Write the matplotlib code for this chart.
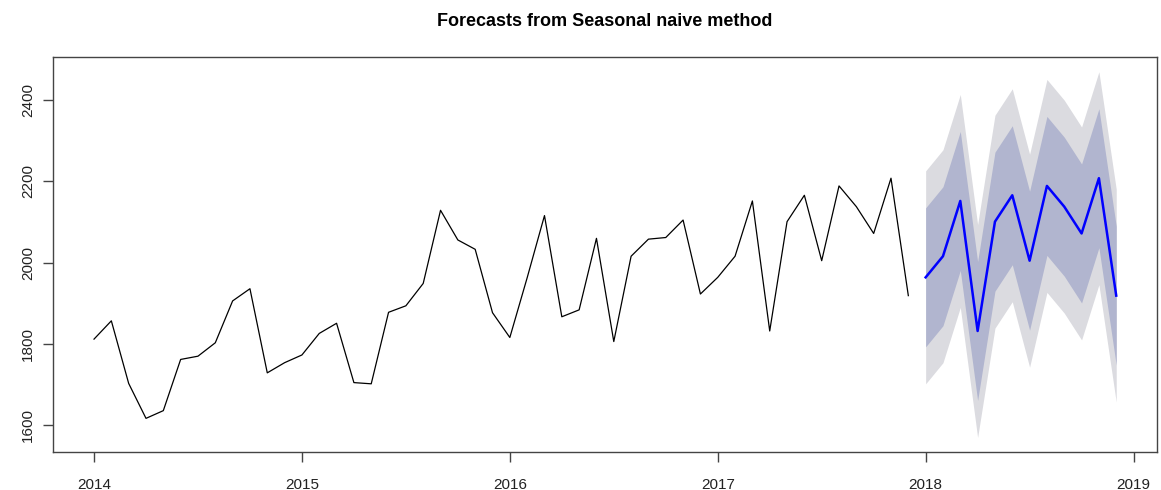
import numpy as np
import matplotlib
matplotlib.use("Agg")
import matplotlib.pyplot as plt

plt.rcParams["font.family"] = ["Liberation Sans", "DejaVu Sans"]

# monthly observations, Jan 2014 .. Dec 2017
obs_2014 = [1812, 1857, 1703, 1617, 1636, 1762, 1770, 1803, 1906, 1936, 1729, 1754]
obs_2015 = [1773, 1826, 1851, 1705, 1702, 1878, 1894, 1949, 2129, 2056, 2033, 1877]
obs_2016 = [1816, 1963, 2116, 1867, 1884, 2060, 1806, 2016, 2058, 2062, 2105, 1923]
obs_2017 = [1964, 2016, 2152, 1832, 2101, 2166, 2005, 2189, 2138, 2072, 2208, 1919]
obs = obs_2014 + obs_2015 + obs_2016 + obs_2017

# seasonal naive forecast for 2018 with 80% / 95% intervals
fc   = [1964, 2016, 2152, 1832, 2101, 2166, 2005, 2189, 2138, 2072, 2208, 1919]
lo80 = [1793, 1845, 1981, 1661, 1930, 1995, 1834, 2018, 1967, 1901, 2037, 1748]
hi80 = [2135, 2187, 2323, 2003, 2272, 2337, 2176, 2360, 2309, 2243, 2379, 2090]
lo95 = [1702, 1754, 1890, 1570, 1839, 1904, 1743, 1927, 1876, 1810, 1946, 1657]
hi95 = [2226, 2278, 2414, 2094, 2363, 2428, 2267, 2451, 2400, 2334, 2470, 2181]

start = 2014
t_obs = start + np.arange(len(obs)) / 12.0
t_fc = start + (len(obs) + np.arange(len(fc))) / 12.0

fig = plt.figure(figsize=(11.61, 4.9), dpi=100)
ax = fig.add_axes([0.0457, 0.0782, 0.9509, 0.8061])

ax.fill_between(t_fc, lo95, hi95, color="#DBDBE0", lw=0)
ax.fill_between(t_fc, lo80, hi80, color="#B1B5CF", lw=0)
ax.plot(t_obs, obs, color="black", lw=0.9)
ax.plot(t_fc, fc, color="#0000FF", lw=1.8)

ax.set_xlim(2013.803, 2019.113)
ax.set_ylim(1535, 2507)
ax.set_xticks([2014, 2015, 2016, 2017, 2018, 2019])
ax.set_yticks([1600, 1800, 2000, 2200, 2400])
for lab in ax.get_yticklabels():
    lab.set_rotation(90)
    lab.set_va("center")

for s in ax.spines.values():
    s.set_color("#444444")
    s.set_linewidth(1.0)
ax.tick_params(direction="out", length=7, width=1.0, color="#444444",
               labelsize=11, labelcolor="#222222", pad=12)
ax.tick_params(axis="y", pad=6)

fig.text(0.521, 0.957, "Forecasts from Seasonal naive method",
         ha="center", va="center", fontsize=13, fontweight="bold")

plt.savefig("out.png", dpi=100)
